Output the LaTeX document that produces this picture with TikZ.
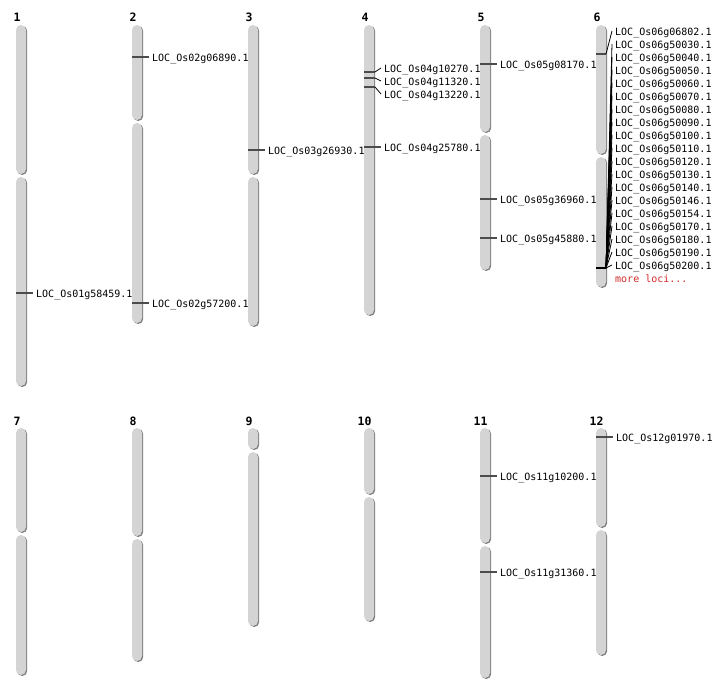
\documentclass[tikz,border=0pt]{standalone}
\usepackage{fontspec}
\setmonofont{DejaVu Sans Mono}
\usetikzlibrary{shadows}

\begin{document}
\begin{tikzpicture}[x=1pt, y=-1pt,
    arm/.style={fill={rgb,255:red,212;green,212;blue,212}, draw=none, rounded corners=5pt,
        drop shadow={shadow xshift=1.2pt, shadow yshift=-1pt, fill=black!50, opacity=1}},
    num/.style={font=\ttfamily\bfseries\fontsize{11.5}{11.5}\selectfont, anchor=base, inner sep=0pt},
    loc/.style={font=\ttfamily\fontsize{10}{10}\selectfont, anchor=west, inner sep=3pt,
        text height=9pt, text depth=0pt},
    tick/.style={draw=black!70, line width=1.2pt},
    link/.style={draw=black, line width=0.8pt}]
    \useasboundingbox (0,0) rectangle (712,700);
    % Chromosomes, top row
    \path[arm] (16,25)  rectangle (26,174);
    \path[arm] (16,177) rectangle (26,386);
    \path[arm] (132,25)  rectangle (142,120);
    \path[arm] (132,123) rectangle (142,323);
    \path[arm] (248,25)  rectangle (258,174);
    \path[arm] (248,177) rectangle (258,326);
    \path[arm] (364,25)  rectangle (374,315);
    \path[arm] (480,25)  rectangle (490,132);
    \path[arm] (480,135) rectangle (490,270);
    \path[arm] (596,25)  rectangle (606,154);
    \path[arm] (596,157) rectangle (606,287);
    % Chromosomes, bottom row
    \path[arm] (16,428) rectangle (26,532);
    \path[arm] (16,535) rectangle (26,675);
    \path[arm] (132,428) rectangle (142,536);
    \path[arm] (132,539) rectangle (142,661);
    \path[arm] (248,428) rectangle (258,449);
    \path[arm] (248,452) rectangle (258,626);
    \path[arm] (364,428) rectangle (374,494);
    \path[arm] (364,497) rectangle (374,621);
    \path[arm] (480,428) rectangle (490,543);
    \path[arm] (480,546) rectangle (490,678);
    \path[arm] (596,428) rectangle (606,527);
    \path[arm] (596,530) rectangle (606,655);
    % Chromosome numbers
    \node[num] (n1)  at (17,22)   {1};
    \node[num] (n2)  at (133,22)  {2};
    \node[num] (n3)  at (249,22)  {3};
    \node[num] (n4)  at (365,22)  {4};
    \node[num] (n5)  at (481,22)  {5};
    \node[num] (n6)  at (597,22)  {6};
    \node[num] (n7)  at (17,425)  {7};
    \node[num] (n8)  at (133,425) {8};
    \node[num] (n9)  at (249,425) {9};
    \node[num] (n10) at (364.5,425) {10};
    \node[num] (n11) at (480.5,425) {11};
    \node[num] (n12) at (596.5,425) {12};
    % Loci on chromosomes 1--3
    \coordinate (c1a) at (16,293);
    \node[loc] (g01g58459) at (33,293) {LOC\_Os01g58459.1};
    \draw[tick] (c1a) -- (g01g58459.west);
    \coordinate (c2a) at (132,57);
    \node[loc] (g02g06890) at (149,57) {LOC\_Os02g06890.1};
    \draw[tick] (c2a) -- (g02g06890.west);
    \coordinate (c2b) at (132,303);
    \node[loc] (g02g57200) at (149,303) {LOC\_Os02g57200.1};
    \draw[tick] (c2b) -- (g02g57200.west);
    \coordinate (c3a) at (248,150);
    \node[loc] (g03g26930) at (265,150) {LOC\_Os03g26930.1};
    \draw[tick] (c3a) -- (g03g26930.west);
    % Loci on chromosome 4
    \coordinate (c4a) at (364,72); \coordinate (c4a') at (375,72);
    \coordinate (c4b) at (364,78); \coordinate (c4b') at (375,78);
    \coordinate (c4c) at (364,87); \coordinate (c4c') at (375,87);
    \node[loc] (g04g10270) at (381,68) {LOC\_Os04g10270.1};
    \node[loc] (g04g11320) at (381,81) {LOC\_Os04g11320.1};
    \node[loc] (g04g13220) at (381,94) {LOC\_Os04g13220.1};
    \draw[tick] (c4a) -- (c4a');  \draw[link] (c4a') -- (g04g10270.west);
    \draw[tick] (c4b) -- (c4b');  \draw[link] (c4b') -- (g04g11320.west);
    \draw[tick] (c4c) -- (c4c');  \draw[link] (c4c') -- (g04g13220.west);
    \coordinate (c4d) at (364,147);
    \node[loc] (g04g25780) at (381,147) {LOC\_Os04g25780.1};
    \draw[tick] (c4d) -- (g04g25780.west);
    % Loci on chromosome 5
    \coordinate (c5a) at (480,64);
    \node[loc] (g05g08170) at (497,64) {LOC\_Os05g08170.1};
    \draw[tick] (c5a) -- (g05g08170.west);
    \coordinate (c5b) at (480,199);
    \node[loc] (g05g36960) at (497,199) {LOC\_Os05g36960.1};
    \draw[tick] (c5b) -- (g05g36960.west);
    \coordinate (c5c) at (480,238);
    \node[loc] (g05g45880) at (497,238) {LOC\_Os05g45880.1};
    \draw[tick] (c5c) -- (g05g45880.west);
    % Loci on chromosome 6
    \coordinate (c6a) at (596,54);  \coordinate (c6a') at (606,54);
    \node[loc] (g06g06802) at (612,31) {LOC\_Os06g06802.1};
    \draw[tick] (c6a) -- (c6a');  \draw[link] (c6a') -- (g06g06802.west);
    \coordinate (c6b) at (596,268); \coordinate (c6b') at (606,268);
    \draw[black, line width=2.2pt] (c6b) -- (c6b');
    \node[loc] (g06g50030) at (612,44)  {LOC\_Os06g50030.1}; \draw[link] (c6b') -- (g06g50030.west);
    \node[loc] (g06g50040) at (612,57)  {LOC\_Os06g50040.1}; \draw[link] (c6b') -- (g06g50040.west);
    \node[loc] (g06g50050) at (612,70)  {LOC\_Os06g50050.1}; \draw[link] (c6b') -- (g06g50050.west);
    \node[loc] (g06g50060) at (612,83)  {LOC\_Os06g50060.1}; \draw[link] (c6b') -- (g06g50060.west);
    \node[loc] (g06g50070) at (612,96)  {LOC\_Os06g50070.1}; \draw[link] (c6b') -- (g06g50070.west);
    \node[loc] (g06g50080) at (612,109) {LOC\_Os06g50080.1}; \draw[link] (c6b') -- (g06g50080.west);
    \node[loc] (g06g50090) at (612,122) {LOC\_Os06g50090.1}; \draw[link] (c6b') -- (g06g50090.west);
    \node[loc] (g06g50100) at (612,135) {LOC\_Os06g50100.1}; \draw[link] (c6b') -- (g06g50100.west);
    \node[loc] (g06g50110) at (612,148) {LOC\_Os06g50110.1}; \draw[link] (c6b') -- (g06g50110.west);
    \node[loc] (g06g50120) at (612,161) {LOC\_Os06g50120.1}; \draw[link] (c6b') -- (g06g50120.west);
    \node[loc] (g06g50130) at (612,174) {LOC\_Os06g50130.1}; \draw[link] (c6b') -- (g06g50130.west);
    \node[loc] (g06g50140) at (612,187) {LOC\_Os06g50140.1}; \draw[link] (c6b') -- (g06g50140.west);
    \node[loc] (g06g50146) at (612,200) {LOC\_Os06g50146.1}; \draw[link] (c6b') -- (g06g50146.west);
    \node[loc] (g06g50154) at (612,213) {LOC\_Os06g50154.1}; \draw[link] (c6b') -- (g06g50154.west);
    \node[loc] (g06g50170) at (612,226) {LOC\_Os06g50170.1}; \draw[link] (c6b') -- (g06g50170.west);
    \node[loc] (g06g50180) at (612,239) {LOC\_Os06g50180.1}; \draw[link] (c6b') -- (g06g50180.west);
    \node[loc] (g06g50190) at (612,252) {LOC\_Os06g50190.1}; \draw[link] (c6b') -- (g06g50190.west);
    \node[loc] (g06g50200) at (612,265) {LOC\_Os06g50200.1}; \draw[link] (c6b') -- (g06g50200.west);
    \node[loc, text={rgb,255:red,210;green,40;blue,40}] (more) at (612,278) {more loci...};
    % Loci on chromosomes 11 and 12
    \coordinate (c11a) at (480,476);
    \node[loc] (g11g10200) at (497,476) {LOC\_Os11g10200.1};
    \draw[tick] (c11a) -- (g11g10200.west);
    \coordinate (c11b) at (480,572);
    \node[loc] (g11g31360) at (497,572) {LOC\_Os11g31360.1};
    \draw[tick] (c11b) -- (g11g31360.west);
    \coordinate (c12a) at (596,437);
    \node[loc] (g12g01970) at (613,437) {LOC\_Os12g01970.1};
    \draw[tick] (c12a) -- (g12g01970.west);
\end{tikzpicture}
\end{document}
